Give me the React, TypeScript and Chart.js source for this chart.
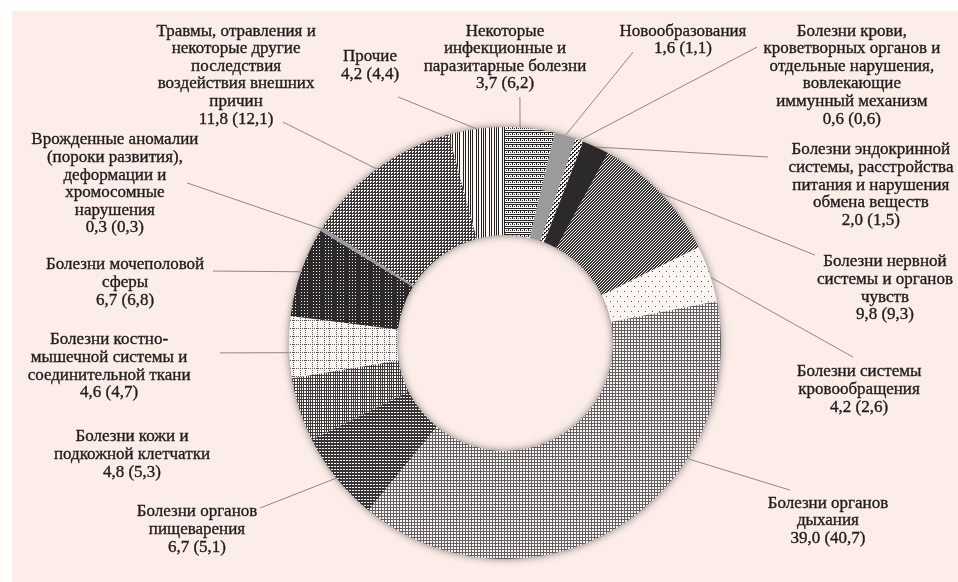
import React, { useEffect, useRef } from 'react';
import { Chart, registerables } from 'chart.js';
Chart.register(...registerables);

// ---------- data ----------
const categories: string[] = [
  'Некоторые инфекционные и паразитарные болезни',
  'Новообразования',
  'Болезни крови, кроветворных органов и отдельные нарушения, вовлекающие иммунный механизм',
  'Болезни эндокринной системы, расстройства питания и нарушения обмена веществ',
  'Болезни нервной системы и органов чувств',
  'Болезни системы кровообращения',
  'Болезни органов дыхания',
  'Болезни органов пищеварения',
  'Болезни кожи и подкожной клетчатки',
  'Болезни костно-мышечной системы и соединительной ткани',
  'Болезни мочеполовой сферы',
  'Врожденные аномалии (пороки развития), деформации и хромосомные нарушения',
  'Травмы, отравления и некоторые другие последствия воздействия внешних причин',
  'Прочие',
];
const values: number[] = [3.7, 1.6, 0.6, 2.0, 9.8, 4.2, 39.0, 6.7, 4.8, 4.6, 6.7, 0.3, 11.8, 4.2];
const previousValues: number[] = [6.2, 1.1, 0.6, 1.5, 9.3, 2.6, 40.7, 5.1, 5.3, 4.7, 6.8, 0.3, 12.1, 4.4];
const labelLines: string[][] = [
  ['Некоторые', 'инфекционные и', 'паразитарные болезни'],
  ['Новообразования'],
  ['Болезни крови,', 'кроветворных органов и', 'отдельные нарушения,', 'вовлекающие', 'иммунный механизм'],
  ['Болезни эндокринной', 'системы, расстройства', 'питания и нарушения', 'обмена веществ'],
  ['Болезни нервной', 'системы и органов', 'чувств'],
  ['Болезни системы', 'кровообращения'],
  ['Болезни органов', 'дыхания'],
  ['Болезни органов', 'пищеварения'],
  ['Болезни кожи и', 'подкожной клетчатки'],
  ['Болезни костно-', 'мышечной системы и', 'соединительной ткани'],
  ['Болезни мочеполовой', 'сферы'],
  ['Врожденные аномалии', '(пороки развития),', 'деформации и', 'хромосомные', 'нарушения'],
  ['Травмы, отравления и', 'некоторые другие', 'последствия', 'воздействия внешних', 'причин'],
  ['Прочие'],
];

// ---------- layout (relative to doughnut centre, in outer-radius units) ----------
// [textX, firstLineY, leaderX, leaderY, fractionAlongSlice] ; leaderX null => no leader
const labelLayout: [number, number, number | null, number | null, number][] = [
  [0.0, -1.444, 0.069, -1.139, 0.3],
  [0.824, -1.444, 0.593, -1.347, 0.5],
  [1.606, -1.444, 1.167, -1.37, 0.5],
  [1.694, -0.894, 1.218, -0.861, 0.5],
  [1.759, -0.375, 1.435, -0.407, 0.5],
  [1.639, 0.134, 1.611, 0.065, 0.57],
  [1.495, 0.741, 1.319, 0.681, 0.31],
  [-1.426, 0.782, -1.134, 0.764, 0.5],
  [-1.727, 0.435, null, null, 0.5],
  [-1.833, -0.014, -1.319, 0.046, 0.41],
  [-1.759, -0.361, -1.352, -0.333, 0.5],
  [-1.806, -0.94, -1.472, -0.741, 0.5],
  [-1.245, -1.444, -1.028, -1.023, 0.5],
  [-0.625, -1.324, -0.495, -1.139, 0.5],
];

const PINK = '#fcede9';
const LIGHT = '#fdf5f2';
const fmt = (v: number) => v.toFixed(1).replace('.', ',');

function tile(w: number, h: number, bg: string, fg: string, test: (x: number, y: number) => boolean): CanvasPattern | string {
  const c = document.createElement('canvas');
  c.width = w;
  c.height = h;
  const g = c.getContext('2d')!;
  g.fillStyle = bg;
  g.fillRect(0, 0, w, h);
  g.fillStyle = fg;
  for (let y = 0; y < h; y++) for (let x = 0; x < w; x++) if (test(x, y)) g.fillRect(x, y, 1, 1);
  const p = g.createPattern(c, 'repeat');
  return p || bg;
}

function makePatterns() {
  return [
    tile(4, 6, LIGHT, '#262424', (x, y) => y === 0 || y === 4 || (y === 2 && x % 2 === 0) || (y === 1 && x === 0)),
    '#9b9b9b',
    tile(4, 4, LIGHT, '#1f1f1f', (x, y) => (Math.floor(x / 2) + Math.floor(y / 2)) % 2 === 0 && !(x % 2 === 1 && y % 2 === 1)),
    '#2b2929',
    tile(3, 3, LIGHT, '#333', (x, y) => (x + y) % 3 !== 2),
    tile(7, 10, LIGHT, '#555', (x, y) => (x === 1 && y === 1) || (x === 4 && y === 6)),
    tile(3, 3, LIGHT, '#626060', (x, y) => x === 0 || y === 0),
    tile(3, 3, LIGHT, '#363434', (x, y) => !(y === 1 && x >= 1)),
    tile(9, 6, LIGHT, '#3c3c3c', (x, y) => (x % 2 === 0 && x < 7) || y % 3 === 0),
    tile(12, 8, LIGHT, '#555', (x, y) => (y === 0 && x % 2 === 0) || ((x === 0 || x === 5) && y % 2 === 0)),
    tile(12, 3, '#2b2929', LIGHT, (x, y) => y === 1 && (x === 1 || x === 4 || x === 7)),
    '#9a9a9a',
    tile(3, 3, LIGHT, '#3a3838', (x, y) => x === 0 || y === 0 || (x === 2 && y === 2)),
    tile(13, 1, LIGHT, '#222', (x) => x === 0 || x === 2 || x === 4 || x === 8 || x === 10),
  ];
}

const backgroundPlugin = {
  id: 'panelBg',
  beforeDraw(chart: any) {
    const { ctx, width, height } = chart;
    ctx.save();
    ctx.fillStyle = '#ffffff';
    ctx.fillRect(0, 0, width, height);
    ctx.fillStyle = PINK;
    ctx.fillRect(12, 11, width - 12, height - 11);
    ctx.restore();
  },
};

const ringShadowPlugin = {
  id: 'ringShadow',
  beforeDatasetsDraw(chart: any) {
    const arc = chart.getDatasetMeta(0).data[0];
    if (!arc) return;
    const { x, y, outerRadius, innerRadius } = arc.getProps(['x', 'y', 'outerRadius', 'innerRadius'], true);
    const ctx = chart.ctx;
    ctx.save();
    ctx.shadowColor = 'rgba(0,0,0,0.6)';
    ctx.shadowBlur = 9;
    ctx.fillStyle = '#c8c0bd';
    ctx.beginPath();
    ctx.arc(x, y, outerRadius - 1, 0, Math.PI * 2);
    ctx.arc(x, y, innerRadius + 1, 0, Math.PI * 2, true);
    ctx.fill('evenodd');
    ctx.restore();
  },
};

const labelPlugin = {
  id: 'sliceLabels',
  afterDatasetsDraw(chart: any) {
    const ctx = chart.ctx;
    const meta = chart.getDatasetMeta(0);
    const lh = 17.6;
    meta.data.forEach((arc: any, i: number) => {
      const { x, y, startAngle, endAngle, outerRadius } = arc.getProps(['x', 'y', 'startAngle', 'endAngle', 'outerRadius'], true);
      const R = outerRadius;
      const [tx, ty, lx, ly, f] = labelLayout[i];
      if (lx !== null && ly !== null) {
        const a = startAngle + f * (endAngle - startAngle);
        ctx.save();
        ctx.strokeStyle = '#8c8888';
        ctx.lineWidth = 1;
        ctx.beginPath();
        ctx.moveTo(x + lx * R, y + ly * R);
        ctx.lineTo(x + Math.cos(a) * R, y + Math.sin(a) * R);
        ctx.stroke();
        ctx.restore();
      }
      const lines = [...labelLines[i], `${fmt(values[i])} (${fmt(previousValues[i])})`];
      ctx.save();
      ctx.fillStyle = '#1e1c1c';
      ctx.strokeStyle = '#1e1c1c';
      ctx.lineWidth = 0.35;
      ctx.font = '17px "Liberation Serif", "DejaVu Serif", serif';
      ctx.textAlign = 'center';
      ctx.textBaseline = 'middle';
      lines.forEach((t, k) => {
        ctx.fillText(t, x + tx * R, y + ty * R + k * lh);
        ctx.strokeText(t, x + tx * R, y + ty * R + k * lh);
      });
      ctx.restore();
    });
  },
};

export default function App() {
  const ref = useRef<HTMLCanvasElement | null>(null);
  useEffect(() => {
    document.body.style.margin = '0';
    if (!ref.current) return;
    const chart = new Chart(ref.current, {
      type: 'doughnut',
      data: {
        labels: categories,
        datasets: [
          {
            data: values,
            backgroundColor: makePatterns() as any,
            borderWidth: 0,
          },
        ],
      },
      options: {
        responsive: false,
        animation: false,
        cutout: '50%',
        devicePixelRatio: 1,
        layout: { padding: { left: 289, right: 237, top: 127, bottom: 23 } },
        plugins: { legend: { display: false }, tooltip: { enabled: false } },
      },
      plugins: [backgroundPlugin, ringShadowPlugin, labelPlugin],
    });
    return () => chart.destroy();
  }, []);
  return (
    <div style={{ width: 958, height: 582 }}>
      <canvas ref={ref} width={958} height={582} style={{ display: 'block' }} />
    </div>
  );
}
